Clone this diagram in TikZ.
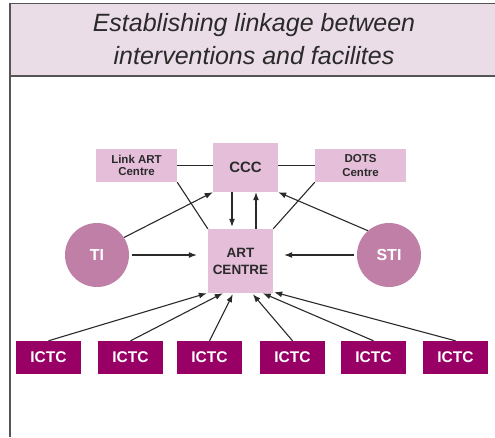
\documentclass[tikz,border=0pt]{standalone}
\usepackage{fontspec}
\setmainfont{Liberation Sans}
\usetikzlibrary{arrows.meta,calc}
\definecolor{titlefill}{HTML}{EBDDE7}
\definecolor{boxfill}{HTML}{E5BFD9}
\definecolor{circfill}{HTML}{BF7FA7}
\definecolor{ictcfill}{HTML}{990066}
\definecolor{txt}{HTML}{2A2A2A}
\definecolor{framec}{HTML}{555555}
\tikzset{
  pbox/.style={rectangle, fill=boxfill, inner sep=0pt, align=center, text=txt, font=\bfseries},
  pcirc/.style={circle, fill=circfill, inner sep=0pt, minimum size=64pt, text=white, font=\fontsize{16}{18}\selectfont\bfseries},
  ictc/.style={rectangle, fill=ictcfill, inner sep=0pt, minimum width=65pt, minimum height=33pt, text=white, font=\fontsize{15.5}{18}\selectfont\bfseries},
  conn/.style={draw=txt, line width=1.1pt},
  arr/.style={conn, -{Latex[length=8pt,width=6pt]}},
}
\begin{document}
\begin{tikzpicture}[x=1pt,y=-1pt]
\useasboundingbox (0,0) rectangle (495,437);
% title band
\fill[titlefill] (10,3.5) rectangle (495,76);
\draw[framec, line width=1.5pt] (495,3.5) -- (10,3.5) -- (10,437);
\draw[framec, line width=1.5pt] (10,76) -- (495,76);
\node[text=txt, font=\fontsize{25}{33}\selectfont\itshape, align=center] (title) at (254,39) {Establishing linkage between\\interventions and facilites};
% nodes
\node[pbox, minimum width=81pt, minimum height=33pt, font=\fontsize{11.5}{12.5}\selectfont\bfseries] (link) at (136.5,165.5) {Link ART\\Centre};
\node[pbox, minimum width=65pt, minimum height=49pt, font=\fontsize{15}{17}\selectfont\bfseries] (ccc) at (245.5,167.5) {CCC};
\node[pbox, minimum width=91pt, minimum height=33pt, font=\fontsize{11.5}{14.5}\selectfont\bfseries] (dots) at (360.5,165.5) {DOTS\\Centre};
\node[pbox, minimum width=65pt, minimum height=64pt, font=\fontsize{13.5}{17}\selectfont\bfseries] (art) at (240.5,261) {ART\\CENTRE};
\node[pcirc] (ti) at (97,255) {TI};
\node[pcirc] (sti) at (389,255) {STI};
\foreach \i/\x in {1/48.5,2/130.5,3/209.5,4/292.5,5/373.5,6/455.5}{
  \node[ictc] (ictc\i) at (\x,357.5) {ICTC};
}
% connectors
\draw[conn] (link.east) -- (ccc.west |- link.east);
\draw[conn] (ccc.east |- dots.west) -- (dots.west);
\draw[conn] (link.south east) -- (art.north west);
\draw[conn] (dots.south west) -- (art.north east);
\draw[arr] (ti.33) -- (ccc.south west);
\draw[arr] (sti.131) -- (ccc.south east);
\draw[arr] ($(ccc.south)+(-13.5,0)$) -- ($(art.north)+(-8.5,-2)$);
\draw[arr] ($(art.north)+(15.5,0)$) -- ($(ccc.south)+(10.5,0)$);
\draw[arr, shorten <=3pt, shorten >=11pt] (ti.east) -- (art.west |- ti.east);
\draw[arr, shorten <=3pt, shorten >=11pt] (sti.west) -- (art.east |- sti.west);
\draw[arr] (ictc1.north) -- ($(art.south west)+(-1,0)$);
\draw[arr] (ictc2.north) -- ($(art.south west)+(15,0)$);
\draw[arr] (ictc3.north) -- ($(art.south west)+(25,1)$);
\draw[arr] (ictc4.north) -- ($(art.south west)+(45,1)$);
\draw[arr] (ictc5.north) -- ($(art.south west)+(55,0)$);
\draw[arr] (ictc6.north) -- ($(art.south east)+(1,-1)$);
\end{tikzpicture}
\end{document}
